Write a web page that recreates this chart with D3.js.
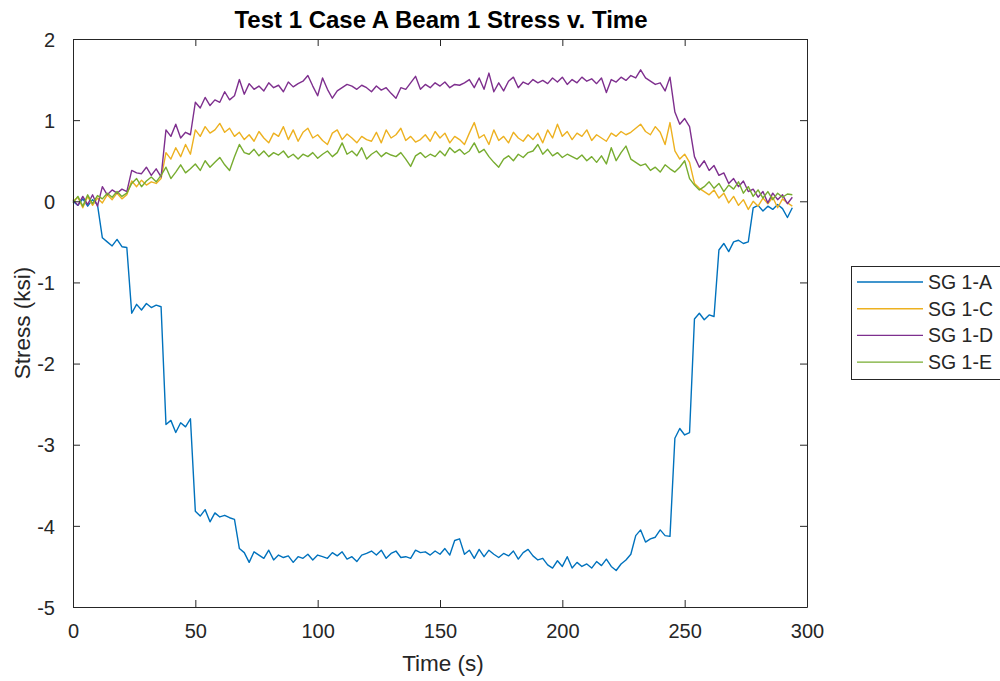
<!DOCTYPE html>
<html>
<head>
<meta charset="utf-8">
<script src="https://cdn.jsdelivr.net/npm/d3@7"></script>
<style>
  html, body { margin: 0; padding: 0; background: #fff; }
  svg { display: block; font-family: "Liberation Sans", Arial, Helvetica, sans-serif; }
</style>
</head>
<body>
<svg id="chart" width="1000" height="681"></svg>
<script>
const time = d3.range(0, 296, 2); // 0..294 s

const seriesNames = ["SG 1-A", "SG 1-C", "SG 1-D", "SG 1-E"];
const seriesColors = ["#0072BD", "#EDB120", "#7E2F8E", "#77AC30"];

const sg1A = [
  0.00, -0.05, 0.03, -0.06, 0.02, -0.04, -0.45, -0.50, -0.55, -0.47,
  -0.56, -0.57, -1.38, -1.27, -1.34, -1.26, -1.31, -1.28, -1.30, -2.75,
  -2.70, -2.85, -2.73, -2.78, -2.68, -3.82, -3.88, -3.80, -3.95, -3.84,
  -3.89, -3.87, -3.90, -3.92, -4.28, -4.33, -4.45, -4.32, -4.36, -4.40,
  -4.30, -4.42, -4.36, -4.39, -4.37, -4.45, -4.38, -4.40, -4.35, -4.42,
  -4.36, -4.38, -4.40, -4.33, -4.37, -4.32, -4.41, -4.38, -4.44, -4.36,
  -4.34, -4.31, -4.36, -4.30, -4.40, -4.34, -4.31, -4.39, -4.38, -4.40,
  -4.30, -4.33, -4.32, -4.36, -4.31, -4.35, -4.28, -4.36, -4.18, -4.16,
  -4.35, -4.30, -4.40, -4.29, -4.38, -4.30, -4.35, -4.39, -4.34, -4.37,
  -4.31, -4.41, -4.33, -4.29, -4.37, -4.42, -4.40, -4.48, -4.52, -4.43,
  -4.50, -4.38, -4.52, -4.45, -4.50, -4.47, -4.52, -4.44, -4.49, -4.41,
  -4.50, -4.55, -4.47, -4.42, -4.35, -4.12, -4.05, -4.20, -4.16, -4.14,
  -4.05, -4.12, -4.13, -2.92, -2.80, -2.88, -2.85, -1.45, -1.38, -1.46,
  -1.40, -1.42, -0.60, -0.52, -0.62, -0.50, -0.48, -0.52, -0.50, -0.08,
  -0.05, -0.12, -0.06, -0.10, -0.04, -0.09, -0.20, -0.08
];

const sg1C = [
  0.00, 0.05, -0.08, 0.06, -0.05, 0.04, -0.02, 0.08, 0.02, 0.10,
  0.03, 0.08, 0.25, 0.18, 0.26, 0.20, 0.24, 0.22, 0.28, 0.60,
  0.52, 0.66, 0.55, 0.70, 0.58, 0.88, 0.80, 0.92, 0.84, 0.88,
  0.96, 0.85, 0.90, 0.80, 0.85, 0.76, 0.82, 0.74, 0.86, 0.78,
  0.72, 0.84, 0.80, 0.92, 0.76, 0.88, 0.74, 0.85, 0.90, 0.78,
  0.82, 0.75, 0.70, 0.84, 0.88, 0.76, 0.83, 0.78, 0.72, 0.80,
  0.76, 0.74, 0.85, 0.72, 0.88, 0.78, 0.82, 0.90, 0.75, 0.80,
  0.73, 0.76, 0.82, 0.74, 0.86, 0.78, 0.84, 0.72, 0.80, 0.76,
  0.70, 0.84, 0.97, 0.78, 0.82, 0.70, 0.88, 0.75, 0.80, 0.72,
  0.85, 0.78, 0.74, 0.82, 0.76, 0.84, 0.72, 0.88, 0.78, 0.95,
  0.80, 0.86, 0.76, 0.84, 0.80, 0.88, 0.75, 0.82, 0.78, 0.74,
  0.84, 0.80, 0.86, 0.82, 0.85, 0.90, 0.95, 0.86, 0.82, 0.92,
  0.85, 0.70, 0.97, 0.62, 0.52, 0.58, 0.48, 0.22, 0.16, 0.12,
  0.08, 0.14, 0.04, 0.10, -0.02, 0.06, -0.05, 0.02, -0.10, 0.00,
  -0.06, 0.04, -0.03, 0.05, -0.08, 0.03, -0.02, -0.06
];

const sg1D = [
  0.02, -0.05, 0.06, -0.04, 0.08, -0.06, 0.18, 0.08, 0.14, 0.10,
  0.15, 0.12, 0.38, 0.35, 0.34, 0.42, 0.32, 0.40, 0.30, 0.88,
  0.80, 0.95, 0.78, 0.85, 0.82, 1.22, 1.15, 1.28, 1.18, 1.25,
  1.22, 1.35, 1.25, 1.30, 1.50, 1.32, 1.45, 1.38, 1.42, 1.36,
  1.46, 1.40, 1.43, 1.35, 1.47, 1.41, 1.45, 1.48, 1.55, 1.42,
  1.30, 1.52, 1.38, 1.27, 1.36, 1.40, 1.44, 1.42, 1.38, 1.43,
  1.40, 1.35, 1.42, 1.37, 1.40, 1.33, 1.27, 1.40, 1.38, 1.46,
  1.54, 1.38, 1.44, 1.40, 1.46, 1.42, 1.47, 1.40, 1.44, 1.43,
  1.46, 1.50, 1.40, 1.52, 1.38, 1.58, 1.35, 1.46, 1.36, 1.48,
  1.53, 1.40, 1.47, 1.44, 1.50, 1.46, 1.49, 1.45, 1.52, 1.47,
  1.53, 1.44, 1.50, 1.46, 1.53, 1.48, 1.51, 1.45, 1.52, 1.34,
  1.50, 1.47, 1.53, 1.49, 1.55, 1.52, 1.62, 1.52, 1.48, 1.44,
  1.46, 1.36, 1.53, 1.10, 0.95, 1.02, 0.92, 0.55, 0.42, 0.50,
  0.38, 0.44, 0.32, 0.35, 0.22, 0.28, 0.18, 0.25, 0.12, 0.15,
  0.05, 0.12, -0.02, 0.10, 0.02, 0.08, -0.03, 0.05
];

const sg1E = [
  -0.02, 0.06, -0.06, 0.08, -0.03, 0.07, 0.03, 0.10, 0.05, 0.12,
  0.06, 0.10, 0.22, 0.28, 0.18, 0.25, 0.30, 0.24, 0.32, 0.42,
  0.28, 0.36, 0.45, 0.35, 0.40, 0.46, 0.38, 0.50, 0.42, 0.48,
  0.54, 0.45, 0.38, 0.55, 0.70, 0.60, 0.58, 0.64, 0.56, 0.62,
  0.55, 0.60, 0.57, 0.62, 0.54, 0.58, 0.52, 0.58, 0.55, 0.60,
  0.53, 0.58, 0.62, 0.55, 0.60, 0.72, 0.58, 0.62, 0.56, 0.66,
  0.52, 0.58, 0.62, 0.55, 0.60, 0.57, 0.55, 0.60, 0.52, 0.43,
  0.56, 0.60, 0.54, 0.58, 0.55, 0.62, 0.56, 0.66, 0.60, 0.64,
  0.58, 0.62, 0.72, 0.60, 0.64, 0.55, 0.48, 0.42, 0.52, 0.56,
  0.50, 0.58, 0.54, 0.60, 0.62, 0.70, 0.58, 0.64, 0.56, 0.60,
  0.54, 0.58, 0.55, 0.52, 0.57, 0.50, 0.55, 0.48, 0.56, 0.46,
  0.66, 0.50, 0.60, 0.68, 0.52, 0.48, 0.44, 0.46, 0.38, 0.42,
  0.36, 0.45, 0.40, 0.36, 0.42, 0.50, 0.28, 0.20, 0.14, 0.18,
  0.24, 0.16, 0.22, 0.12, 0.20, 0.15, 0.24, 0.10, 0.18, 0.06,
  0.14, 0.04, 0.12, 0.02, 0.10, 0.05, 0.09, 0.08
];

const xTicks = [0, 50, 100, 150, 200, 250, 300];
const yTicks = [-5, -4, -3, -2, -1, 0, 1, 2];

const titleText = "Test 1 Case A Beam 1 Stress v. Time";
const xLabelText = "Time (s)";
const yLabelText = "Stress (ksi)";

// ---- Layout ----
const svg = d3.select("#chart");
const pLeft = 73, pRight = 807, pTop = 39, pBottom = 607;
const axisColor = "#262626";
const tickLen = 7;

const x = d3.scaleLinear().domain([0, 300]).range([pLeft, pRight]);
const y = d3.scaleLinear().domain([-5, 2]).range([pBottom, pTop]);

// Lines
const allSeries = [sg1A, sg1C, sg1D, sg1E];
const line = d3.line().x((d, i) => x(time[i])).y(d => y(d));

const plot = svg.append("g");
allSeries.forEach((vals, k) => {
  plot.append("path")
    .datum(vals)
    .attr("d", line)
    .attr("fill", "none")
    .attr("stroke", seriesColors[k])
    .attr("stroke-width", 1.4)
    .attr("stroke-linejoin", "round");
});

// Axes (MATLAB-like box with inward ticks)
const fontTick = 20;
const fmt = d => String(d);
const bottomAxis = d3.axisBottom(x).tickValues(xTicks).tickFormat(fmt).tickSizeInner(-tickLen).tickSizeOuter(0).tickPadding(tickLen + 10);
const topAxis = d3.axisTop(x).tickValues(xTicks).tickSizeInner(-tickLen).tickSizeOuter(0).tickFormat("");
const leftAxis = d3.axisLeft(y).tickValues(yTicks).tickFormat(fmt).tickSizeInner(-tickLen).tickSizeOuter(0).tickPadding(tickLen + 11);
const rightAxis = d3.axisRight(y).tickValues(yTicks).tickSizeInner(-tickLen).tickSizeOuter(0).tickFormat("");

function styleAxis(g) {
  g.selectAll(".domain").attr("stroke", axisColor).attr("stroke-width", 1);
  g.selectAll(".tick line").attr("stroke", axisColor).attr("stroke-width", 1);
  g.selectAll(".tick text")
    .attr("fill", axisColor)
    .style("font-size", fontTick + "px")
    .style("font-family", '"Liberation Sans", Arial, sans-serif');
}

svg.append("g").attr("transform", `translate(0,${pBottom})`).call(bottomAxis).call(styleAxis);
svg.append("g").attr("transform", `translate(0,${pTop})`).call(topAxis).call(styleAxis);
svg.append("g").attr("transform", `translate(${pLeft},0)`).call(leftAxis).call(styleAxis)
  .selectAll(".tick text").attr("dy", "0.36em");
svg.append("g").attr("transform", `translate(${pRight},0)`).call(rightAxis).call(styleAxis);

// Title and labels
svg.append("text")
  .attr("x", (pLeft + pRight) / 2 + 1)
  .attr("y", 28)
  .attr("text-anchor", "middle")
  .attr("fill", "#000")
  .style("font-size", "24px")
  .style("font-weight", "bold")
  .text(titleText);

svg.append("text")
  .attr("x", (pLeft + pRight) / 2 + 3)
  .attr("y", 671)
  .attr("text-anchor", "middle")
  .attr("fill", axisColor)
  .style("font-size", "22.5px")
  .text(xLabelText);

svg.append("text")
  .attr("transform", `translate(30,${(pTop + pBottom) / 2}) rotate(-90)`)
  .attr("text-anchor", "middle")
  .attr("fill", axisColor)
  .style("font-size", "22.5px")
  .text(yLabelText);

// Legend
const legend = svg.append("g");
const lgX = 851, lgY = 266, lgW = 160, lgH = 113;
legend.append("rect")
  .attr("x", lgX + 0.5).attr("y", lgY + 0.5)
  .attr("width", lgW).attr("height", lgH)
  .attr("fill", "#fff")
  .attr("stroke", axisColor)
  .attr("stroke-width", 1);

seriesNames.forEach((name, k) => {
  const ry = 282 + k * 26.7;
  legend.append("line")
    .attr("x1", 857).attr("x2", 923)
    .attr("y1", ry).attr("y2", ry)
    .attr("stroke", seriesColors[k])
    .attr("stroke-width", 1.4);
  legend.append("text")
    .attr("x", 928).attr("y", ry)
    .attr("dy", "0.36em")
    .attr("fill", axisColor)
    .style("font-size", "19.5px")
    .text(name);
});
</script>
</body>
</html>
